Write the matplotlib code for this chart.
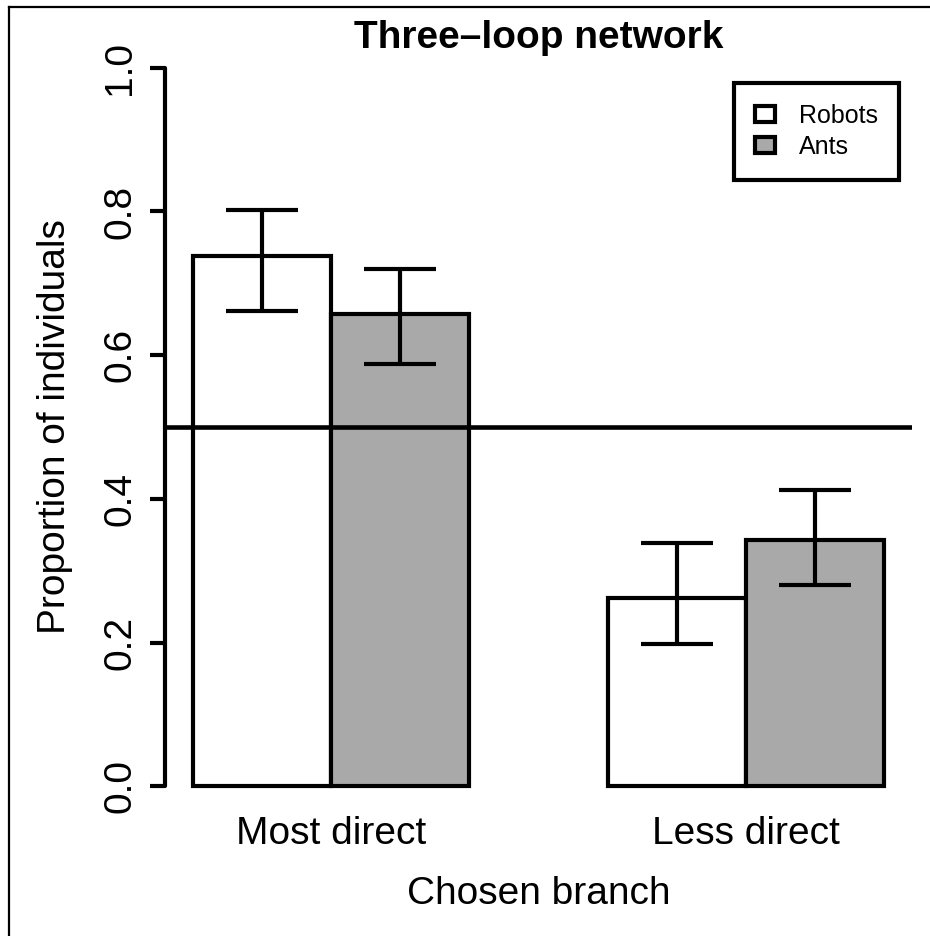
"""Three-loop network: branch choice of robots versus ants."""

import matplotlib

matplotlib.use("Agg")
import matplotlib.pyplot as plt
from matplotlib.lines import Line2D
from matplotlib.patches import Patch

plt.rcParams["font.family"] = ["Liberation Sans", "DejaVu Sans"]

branches = ["Most direct", "Less direct"]
groups = ["Robots", "Ants"]
robots_mean = [0.738, 0.262]
robots_low = [0.661, 0.198]
robots_high = [0.802, 0.338]
ants_mean = [0.657, 0.343]
ants_low = [0.588, 0.280]
ants_high = [0.720, 0.412]
colors = ["white", "#a9a9a9"]
chance_level = 0.5

LW = 3.0

fig = plt.figure(figsize=(9.3, 9.36), dpi=100)
ax = fig.add_axes([165 / 930, 121 / 936, 747 / 930, 776 / 936])

series = [
    (robots_mean, robots_low, robots_high),
    (ants_mean, ants_low, ants_high),
]
centers = [2 + 3 * i for i in range(len(branches))]
for k, (mean, low, high) in enumerate(series):
    xs = [c - 0.5 + k for c in centers]
    ax.bar(xs, mean, width=1.0, color=colors[k], edgecolor="black",
           linewidth=LW, zorder=2)
    lower = [m - lo for m, lo in zip(mean, low)]
    upper = [hi - m for m, hi in zip(mean, high)]
    ax.errorbar(xs, mean, yerr=[lower, upper], fmt="none", ecolor="black",
                elinewidth=LW, capsize=26, capthick=LW, zorder=3)

ax.axhline(chance_level, color="black", linewidth=3.3, zorder=4)

ax.set_xlim(0.8, 6.2)
ax.set_ylim(-0.04, 1.04)
ax.set_xticks(centers)
ax.set_xticklabels(branches, fontsize=28)
ax.tick_params(axis="x", length=0, pad=0.5)
ax.set_yticks([0.0, 0.2, 0.4, 0.6, 0.8, 1.0])
ax.set_yticklabels(["0.0", "0.2", "0.4", "0.6", "0.8", "1.0"], fontsize=28,
                   rotation=90, va="center")
ax.tick_params(axis="y", length=10.8, width=LW, pad=8.6)

for side in ["top", "right", "bottom"]:
    ax.spines[side].set_visible(False)
ax.spines["left"].set_bounds(0, 1)
ax.spines["left"].set_linewidth(LW)
ax.spines["left"].set_capstyle("round")

ax.set_ylabel("Proportion of individuals", fontsize=28)
ax.yaxis.set_label_coords(-0.123, 0.5)
ax.set_xlabel("Chosen branch", fontsize=28)
ax.xaxis.set_label_coords(0.5, -0.0786)
ax.set_title("Three\u2013loop network", fontsize=28, fontweight="bold",
             y=0.9884, pad=0)

handles = [Patch(facecolor=c, edgecolor="black", linewidth=LW) for c in colors]
leg = ax.legend(handles, groups, loc="upper right",
                bbox_to_anchor=(899 / 930, 1 - 83 / 936),
                bbox_transform=fig.transFigure, borderaxespad=0,
                fontsize=18, frameon=True, fancybox=False,
                edgecolor="black", framealpha=1, borderpad=0.84,
                labelspacing=0.27, handlelength=0.8, handleheight=0.58,
                handletextpad=0.95)
leg.get_frame().set_linewidth(LW)

fig.add_artist(Line2D([9 / 930, 9 / 930], [0, 1 - 7 / 936], color="black",
                      linewidth=1.6, transform=fig.transFigure))
fig.add_artist(Line2D([9 / 930, 1], [1 - 7 / 936, 1 - 7 / 936],
                      color="black", linewidth=1.6,
                      transform=fig.transFigure))

fig.savefig("out.png", dpi=100)
plt.close(fig)
